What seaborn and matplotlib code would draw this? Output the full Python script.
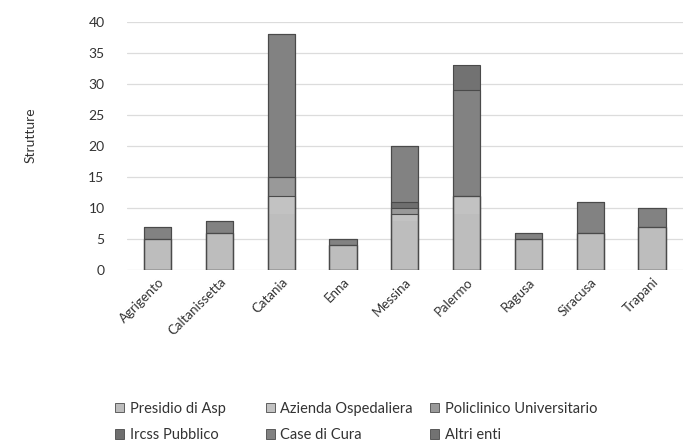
import matplotlib
matplotlib.use("Agg")
import matplotlib.pyplot as plt
import matplotlib.patches as mpatches
import seaborn as sns
import pandas as pd
import numpy as np

# Dati
province = ["Agrigento", "Caltanissetta", "Catania", "Enna", "Messina",
            "Palermo", "Ragusa", "Siracusa", "Trapani"]
presidio_asp = [5, 6, 9, 4, 8, 9, 5, 6, 7]
azienda_osp = [0, 0, 3, 0, 1, 3, 0, 0, 0]
policlinico = [0, 0, 3, 0, 1, 0, 0, 0, 0]
ircss = [0, 0, 0, 0, 1, 0, 0, 0, 0]
case_cura = [2, 2, 23, 1, 9, 17, 1, 5, 3]
altri_enti = [0, 0, 0, 0, 0, 4, 0, 0, 0]

serie = ["Presidio di Asp", "Azienda Ospedaliera", "Policlinico Universitario",
         "Ircss Pubblico", "Case di Cura", "Altri enti"]
colori = ["#bdbdbd", "#c2c2c2", "#999999", "#6f6f6f", "#828282", "#727272"]

df = pd.DataFrame({
    "provincia": province,
    serie[0]: presidio_asp,
    serie[1]: azienda_osp,
    serie[2]: policlinico,
    serie[3]: ircss,
    serie[4]: case_cura,
    serie[5]: altri_enti,
})
cum = df[serie].cumsum(axis=1)

sns.set_style("white")
plt.rcParams["font.family"] = ["Lato", "DejaVu Sans"]

fig = plt.figure(figsize=(6.85, 4.48), dpi=100)
ax = fig.add_axes([0.185, 0.397, 0.812, 0.554])

# barre impilate: dall'alto verso il basso (cumulata)
for s, c in reversed(list(zip(serie, colori))):
    sns.barplot(x=df["provincia"], y=cum[s], color=c, ax=ax, width=0.44,
                linewidth=0, saturation=1)
# contorni: totale e parti sopra la base chiara
for s in serie[1:]:
    sns.barplot(x=df["provincia"], y=cum[s], color="#4a4a4a", ax=ax,
                width=0.44, fill=False, linewidth=0.8)

ax.set_ylim(0, 40)
ax.set_yticks(np.arange(0, 41, 5))
ax.set_xlim(-0.5, len(province) - 0.5)
ax.grid(axis="y", color="#dcdcdc", linewidth=0.9)
ax.set_axisbelow(True)
for sp in ax.spines.values():
    sp.set_visible(False)
ax.tick_params(axis="y", length=0, labelsize=10, labelcolor="#333333", pad=16)
ax.tick_params(axis="x", length=0, labelsize=9.5, labelcolor="#333333", pad=4)
plt.setp(ax.get_xticklabels(), rotation=45, ha="right", rotation_mode="anchor")
ax.set_xlabel("")
ax.set_ylabel("Strutture", fontsize=10, color="#333333")
ax.yaxis.set_label_coords(-0.162, 0.545)

# legenda su tre colonne
handles = [mpatches.Patch(facecolor=c, edgecolor="#4a4a4a", linewidth=0.6)
           for c in colori]
col_x = [0.168, 0.388, 0.628]
for k in range(3):
    fig.legend([handles[k], handles[k + 3]], [serie[k], serie[k + 3]],
               loc="upper left", bbox_to_anchor=(col_x[k], 0.103),
               frameon=False, fontsize=10.5, handlelength=0.6, handleheight=0.6,
               handletextpad=0.4, labelspacing=0.85, borderaxespad=0,
               borderpad=0, labelcolor="#333333")

fig.savefig("out.png", dpi=100)
